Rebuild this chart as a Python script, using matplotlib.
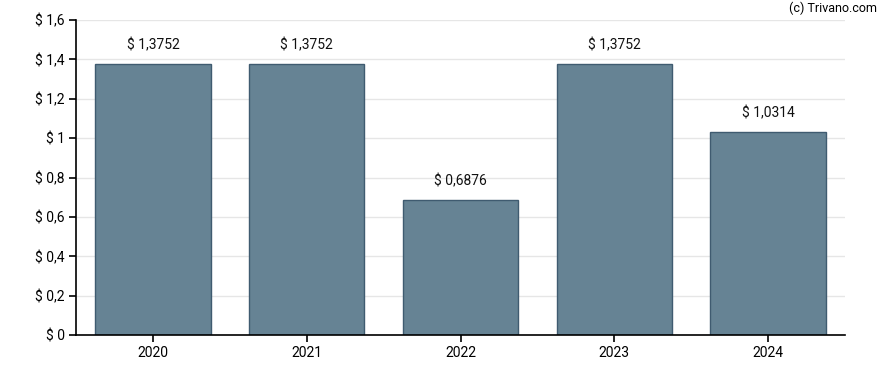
import numpy as np
from matplotlib import pyplot as plt

# data -----------------------
years  = ['2020', '2021', '2022', '2023', '2024']
values = [1.3752, 1.3752, 0.6876, 1.3752, 1.0314]
yticks = [0, 0.2, 0.4, 0.6, 0.8, 1.0, 1.2, 1.4, 1.6]
ylabels = ['$ 0', '$ 0,2', '$ 0,4', '$ 0,6', '$ 0,8', '$ 1', '$ 1,2', '$ 1,4', '$ 1,6']
# ----------------------------

plt.rcParams['font.family'] = ['Roboto', 'DejaVu Sans']
fontsize = 10

fig = plt.figure(figsize=(8.88, 3.70), dpi=100)
ax = fig.add_axes([76/888, 35/370, (845-76)/888, (335-20)/370])

x = np.arange(len(years))
ax.bar(x, values, width=0.75, color='#668394', edgecolor='#3f5b70', lw=1, zorder=2)
for xi, v in zip(x, values):
    ax.text(xi, v + 0.06, '$ ' + f'{v:.4f}'.replace('.', ','), ha='center', va='bottom',
            fontsize=fontsize, color='#111111')

ax.set_xlim(-0.5, len(years) - 0.5)
ax.set_ylim(0, 1.6)
ax.set_xticks(x)
ax.set_xticklabels(years, fontsize=fontsize)
ax.set_yticks(yticks)
ax.set_yticklabels(ylabels, fontsize=fontsize)
ax.grid(axis='y', color='#e6e6e6', lw=1, zorder=0)
ax.set_axisbelow(True)
for s in ['top', 'right']:
    ax.spines[s].set_visible(False)
ax.spines['left'].set_linewidth(1.2)
ax.spines['bottom'].set_linewidth(1.2)
ax.tick_params(length=5, width=1.2, pad=3)

fig.text(877/888, 1 - 8/370, '(c) Trivano.com', ha='right', va='center', fontsize=9)

plt.savefig('out.png', dpi=100)
